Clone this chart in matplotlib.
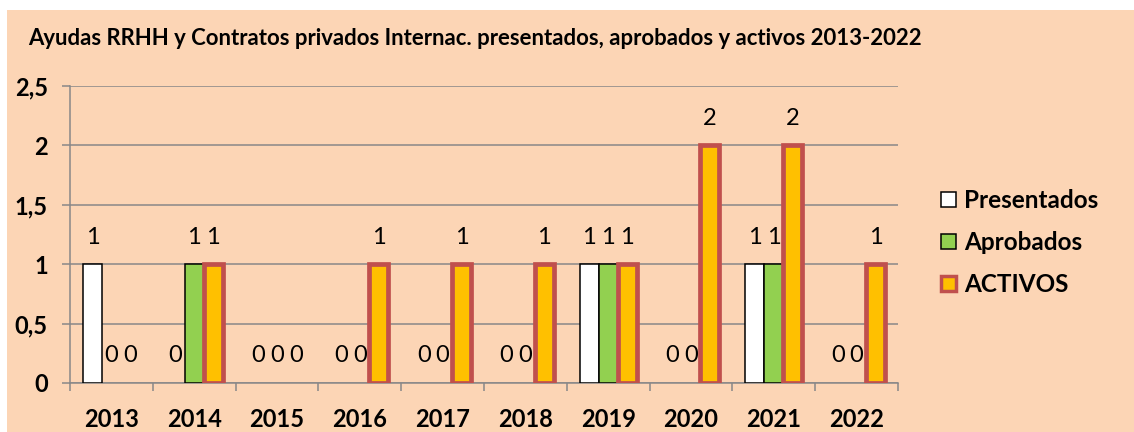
import matplotlib
matplotlib.use("Agg")
import matplotlib.pyplot as plt
import numpy as np
from matplotlib.patches import Rectangle, Patch
from matplotlib.ticker import FuncFormatter, MultipleLocator, FixedLocator

plt.rcParams['font.family'] = ['Lato', 'DejaVu Sans']

years = ['2013', '2014', '2015', '2016', '2017', '2018', '2019', '2020', '2021', '2022']
presentados = [1, 0, 0, 0, 0, 0, 1, 0, 1, 0]
aprobados = [0, 1, 0, 0, 0, 0, 1, 0, 1, 0]
activos = [0, 1, 0, 1, 1, 1, 1, 2, 2, 1]
series_names = ['Presentados', 'Aprobados', 'ACTIVOS']
title = 'Ayudas RRHH y Contratos privados Internac. presentados, aprobados y activos 2013-2022'

BG = '#FCD5B5'
W, H = 1134, 432
fig = plt.figure(figsize=(W / 100, H / 100), dpi=100, facecolor='white')
fig.patches.append(Rectangle((7 / W, 0), 1 - 7 / W, 1 - 10 / H, transform=fig.transFigure,
                             facecolor=BG, edgecolor='none', zorder=-10))

ax = fig.add_axes([70 / W, 1 - 383 / H, (898 - 70) / W, (383 - 86) / H])
ax.set_facecolor('none')

x = np.arange(len(years))
bw = 0.229
styles = [
    dict(facecolor='white', edgecolor='black', linewidth=1.1),
    dict(facecolor='#92D050', edgecolor='black', linewidth=1.1),
    dict(facecolor='#FFC000', edgecolor='#C0504D', linewidth=3.4),
]
all_series = [presentados, aprobados, activos]
for i, (vals, st) in enumerate(zip(all_series, styles)):
    xs = x + (i - 1) * bw
    bars = ax.bar(xs, vals, width=bw, zorder=3, **st)
    for b, v in zip(bars, vals):
        if v == 0:
            b.set_visible(False)
    for xi, v in zip(xs, vals):
        ax.annotate(str(v), (xi, v), xytext=(0, 19.5), textcoords='offset points',
                    ha='center', va='center', fontsize=17, color='black')

ax.set_xlim(-0.5, len(years) - 0.5)
ax.set_ylim(0, 2.5)
ax.yaxis.set_major_locator(MultipleLocator(0.5))
ax.yaxis.set_major_formatter(FuncFormatter(lambda v, p: ('%g' % v).replace('.', ',')))
ax.grid(axis='y', color='#888888', linewidth=1.1, zorder=0)
ax.set_axisbelow(True)

ax.set_xticks(x)
ax.set_xticklabels(years)
ax.xaxis.set_minor_locator(FixedLocator(np.arange(-0.5, len(years), 1.0)))
ax.tick_params(axis='x', which='major', length=0, pad=18, labelsize=17)
ax.tick_params(axis='x', which='minor', length=6, width=1.1, color='#888888', direction='out')
ax.tick_params(axis='y', length=6, width=1.1, color='#888888', pad=10, labelsize=17)
for lab in ax.get_xticklabels() + ax.get_yticklabels():
    lab.set_fontweight('bold')

for s in ['top', 'right']:
    ax.spines[s].set_visible(False)
for s in ['left', 'bottom']:
    ax.spines[s].set_color('#888888')
    ax.spines[s].set_linewidth(1.1)

fig.text(28 / W, 1 - 45 / H, title, fontsize=15.9, fontweight='bold', ha='left', va='baseline')

handles = [Patch(label=n, **st) for n, st in zip(series_names, styles)]
handles[2].set_linewidth(2.5)
leg = fig.legend(handles=handles, loc='upper left', bbox_to_anchor=(941 / W, 1 - 189 / H),
                 frameon=False, prop={'weight': 'bold', 'size': 17.5},
                 handlelength=0.6, handleheight=0.6, handletextpad=0.35, labelspacing=0.78,
                 borderaxespad=0, borderpad=0)

fig.savefig('out.png', dpi=100, facecolor='white')
